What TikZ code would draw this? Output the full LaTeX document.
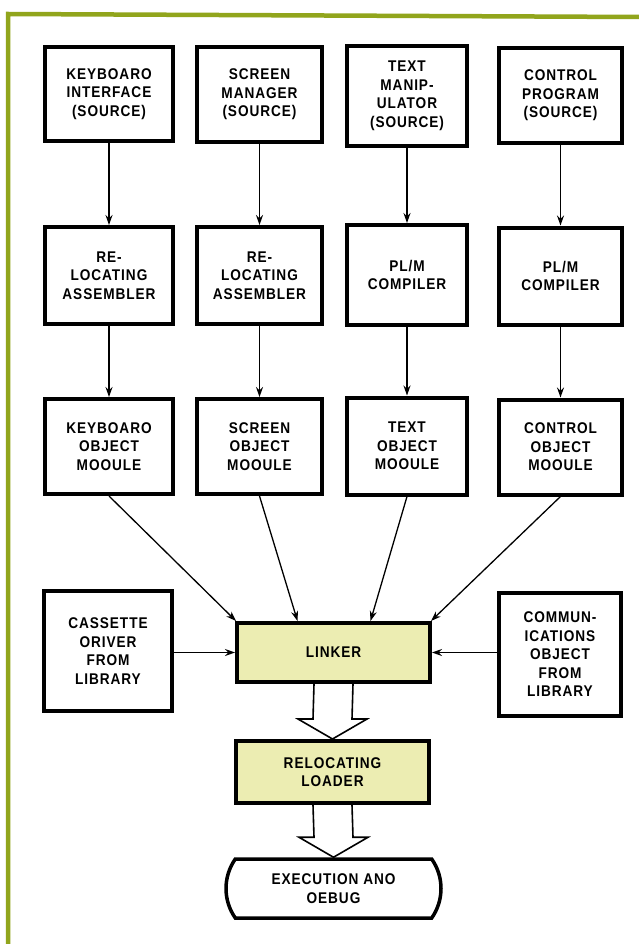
\documentclass[tikz,border=0pt]{standalone}
\usepackage{fontspec}
\setmainfont{Liberation Sans}[FakeStretch=0.88,LetterSpace=6]
\usetikzlibrary{arrows.meta,shapes.misc,calc}
\definecolor{frameg}{RGB}{145,165,28}
\definecolor{linkfill}{RGB}{236,237,178}
\tikzset{
  blk/.style={draw, line width=4pt, align=center, inner sep=0pt, fill=white,
    font=\bfseries\fontsize{15.5}{18.5}\selectfont},
  conn/.style={line width=1.3pt, -{Stealth[length=10pt,width=7pt]}},
  hollow/.style={draw, line width=1.6pt, fill=white, line join=miter},
}
\begin{document}
\begin{tikzpicture}[x=1pt,y=-1pt]
\useasboundingbox (0,0) rectangle (639,944);
\fill[white] (0,0) rectangle (639,944);
% frame
\draw[frameg, line width=4.5pt] (8,944) -- (8,14) -- (639,17);

% row 1
\node[blk, minimum width=128, minimum height=94] (k1) at (109,94) {KEYBOARO\\INTERFACE\\(SOURCE)};
\node[blk, minimum width=125, minimum height=95] (s1) at (259.5,94.5) {SCREEN\\MANAGER\\(SOURCE)};
\node[blk, minimum width=120, minimum height=100] (t1) at (407,96) {TEXT\\MANIP-\\ULATOR\\(SOURCE)};
\node[blk, minimum width=123, minimum height=95] (c1) at (560.5,95.5) {CONTROL\\PROGRAM\\(SOURCE)};

% row 2
\node[blk, minimum width=128, minimum height=97] (k2) at (109,275.5) {RE-\\LOCATING\\ASSEMBLER};
\node[blk, minimum width=125, minimum height=97] (s2) at (259.5,275.5) {RE-\\LOCATING\\ASSEMBLER};
\node[blk, minimum width=120, minimum height=100] (t2) at (407,275) {PL/M\\COMPILER};
\node[blk, minimum width=123, minimum height=97] (c2) at (560.5,276) {PL/M\\COMPILER};

% row 3
\node[blk, minimum width=128, minimum height=95] (k3) at (109,446.5) {KEYBOARO\\OBJECT\\MOOULE};
\node[blk, minimum width=125, minimum height=95] (s3) at (259.5,446.5) {SCREEN\\OBJECT\\MOOULE};
\node[blk, minimum width=120, minimum height=97] (t3) at (407,446) {TEXT\\OBJECT\\MOOULE};
\node[blk, minimum width=123, minimum height=95] (c3) at (560.5,447) {CONTROL\\OBJECT\\MOOULE};

% linker row
\node[blk, minimum width=128, minimum height=120] (cas) at (108,651) {CASSETTE\\ORIVER\\FROM\\LIBRARY};
\node[blk, minimum width=122, minimum height=123] (com) at (560,654.5) {COMMUN-\\ICATIONS\\OBJECT\\FROM\\LIBRARY};
\node[blk, fill=linkfill, minimum width=193, minimum height=59] (lnk) at (333.5,652.5) {LINKER};
\node[blk, fill=linkfill, minimum width=193, minimum height=62] (ldr) at (332.5,772) {RELOCATING\\LOADER};
\node[blk, line width=3.5pt, rounded rectangle, rounded rectangle arc length=70,
  minimum width=215, minimum height=59] (exe) at (333.5,888.5) {EXECUTION ANO\\OEBUG};

% vertical arrows
\foreach \a/\b in {k1/k2,s1/s2,t1/t2,c1/c2,k2/k3,s2/s3,t2/t3,c2/c3}
  \draw[conn] (\a.south) -- (\a.south |- \b.north);

% converging arrows
\draw[conn] (k3.south) -- ([xshift=1pt]lnk.north west);
\draw[conn] (s3.south) -- ([xshift=-36pt]lnk.north);
\draw[conn] (t3.south) -- ([xshift=37pt]lnk.north);
\draw[conn] (c3.south) -- ([xshift=-1pt]lnk.north east);

% side arrows
\draw[conn] (cas.east |- lnk.west) -- (lnk.west);
\draw[conn] (com.west |- lnk.east) -- (lnk.east);

% hollow arrows
\draw[hollow] ($(lnk.south)+(-19.5,0)$) -- ($(ldr.north)+(-19.5,-20)$) -- ($(ldr.north)+(-34.5,-20)$)
  -- (ldr.north) -- ($(ldr.north)+(34.5,-20)$) -- ($(ldr.north)+(19.5,-20)$) -- ($(lnk.south)+(19.5,0)$);
\draw[hollow] ($(ldr.south)+(-19.5,0)$) -- ($(exe.north)+(-19.5,-20)$) -- ($(exe.north)+(-34.5,-20)$)
  -- (exe.north) -- ($(exe.north)+(34.5,-20)$) -- ($(exe.north)+(19.5,-20)$) -- ($(ldr.south)+(19.5,0)$);
\end{tikzpicture}
\end{document}
